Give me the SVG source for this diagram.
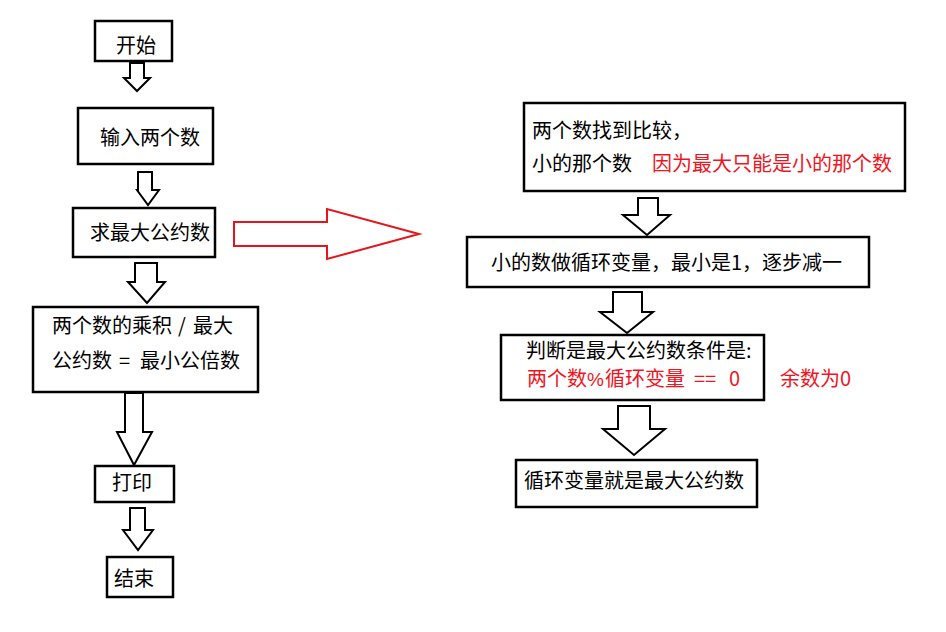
<svg xmlns="http://www.w3.org/2000/svg" width="946" height="632" viewBox="0 0 946 632">
<style>
.box{fill:#fff;stroke:#000;stroke-width:2.5}
.arr{fill:#fff;stroke:#000;stroke-width:2;stroke-linejoin:miter}
.red-arr{fill:#fff;stroke:#e8141b;stroke-width:2}
text{font-family:"Microsoft YaHei","Noto Sans CJK SC",sans-serif;font-size:20px;fill:#000}
.r{fill:#f0141e}
</style>
<rect width="946" height="632" fill="#fff"/>
<g id="connectors">
<polygon class="arr" points="130,63 144,63 144,78 150,78 137,91 124,78 130,78"/>
<polygon class="arr" points="138,172 152,172 152,190 159,190 148,205 137,190 138,190"/>
<polygon class="arr" points="135,263 157,263 157,282 165,282 147,303 128,282 135,282"/>
<polygon class="arr" points="125,393 143,393 143,432 152,432 134,465 117,432 125,432"/>
<polygon class="arr" points="130,508 145,508 145,530 153,530 138,550 123,530 130,530"/>
<polygon class="red-arr" points="234,222 327,222 327,209 419,234 327,259 327,246 234,246"/>
<polygon class="arr" points="638,198 658,198 658,215 670,215 647,235 623,215 638,215"/>
<polygon class="arr" points="613,292 642,292 642,312 653,312 627,333 600,312 613,312"/>
<polygon class="arr" points="618,406 650,406 650,429 665,429 634,455 603,429 618,429"/>
</g>
<g id="start"><rect class="box" x="95" y="21" width="77" height="40"/><text x="116" y="53">开始</text></g>
<g id="input"><rect class="box" x="78" y="108" width="135" height="56"/><text x="100" y="145">输入两个数</text></g>
<g id="gcd"><rect class="box" x="73" y="208" width="142" height="49"/><text x="90" y="240">求最大公约数</text></g>
<g id="lcm"><rect class="box" x="33" y="307" width="225" height="85"/><text x="52" y="333">两个数的乘积<tspan x="178">/</tspan><tspan x="193">最大</tspan></text><text x="52" y="368">公约数<tspan x="119">=</tspan><tspan x="140">最小公倍数</tspan></text></g>
<g id="print"><rect class="box" x="95" y="466" width="79" height="36"/><text x="112" y="490">打印</text></g>
<g id="end"><rect class="box" x="107" y="557" width="66" height="40"/><text x="114" y="586">结束</text></g>
<g id="compare"><rect class="box" x="524" y="103" width="381" height="88"/><text x="532" y="138">两个数找到比较，</text><text x="532" y="171">小的那个数</text><text class="r" x="652" y="171">因为最大只能是小的那个数</text></g>
<g id="loopvar"><rect class="box" x="467" y="237" width="402" height="50"/><text x="491" y="270">小的数做循环变量，最小是1，逐步减一</text></g>
<g id="cond"><rect class="box" x="501" y="335" width="263" height="65"/><text x="526" y="358">判断是最大公约数条件是:</text><text class="r" x="527" y="386">两个数<tspan x="587" font-family="'Liberation Sans',sans-serif" font-size="19">%</tspan><tspan x="605">循环变量</tspan><tspan x="694">==</tspan><tspan x="729">0</tspan></text></g>
<text id="note" class="r" x="780" y="386">余数为0</text>
<g id="result"><rect class="box" x="516" y="460" width="241" height="47"/><text x="524" y="488">循环变量就是最大公约数</text></g>
</svg>
